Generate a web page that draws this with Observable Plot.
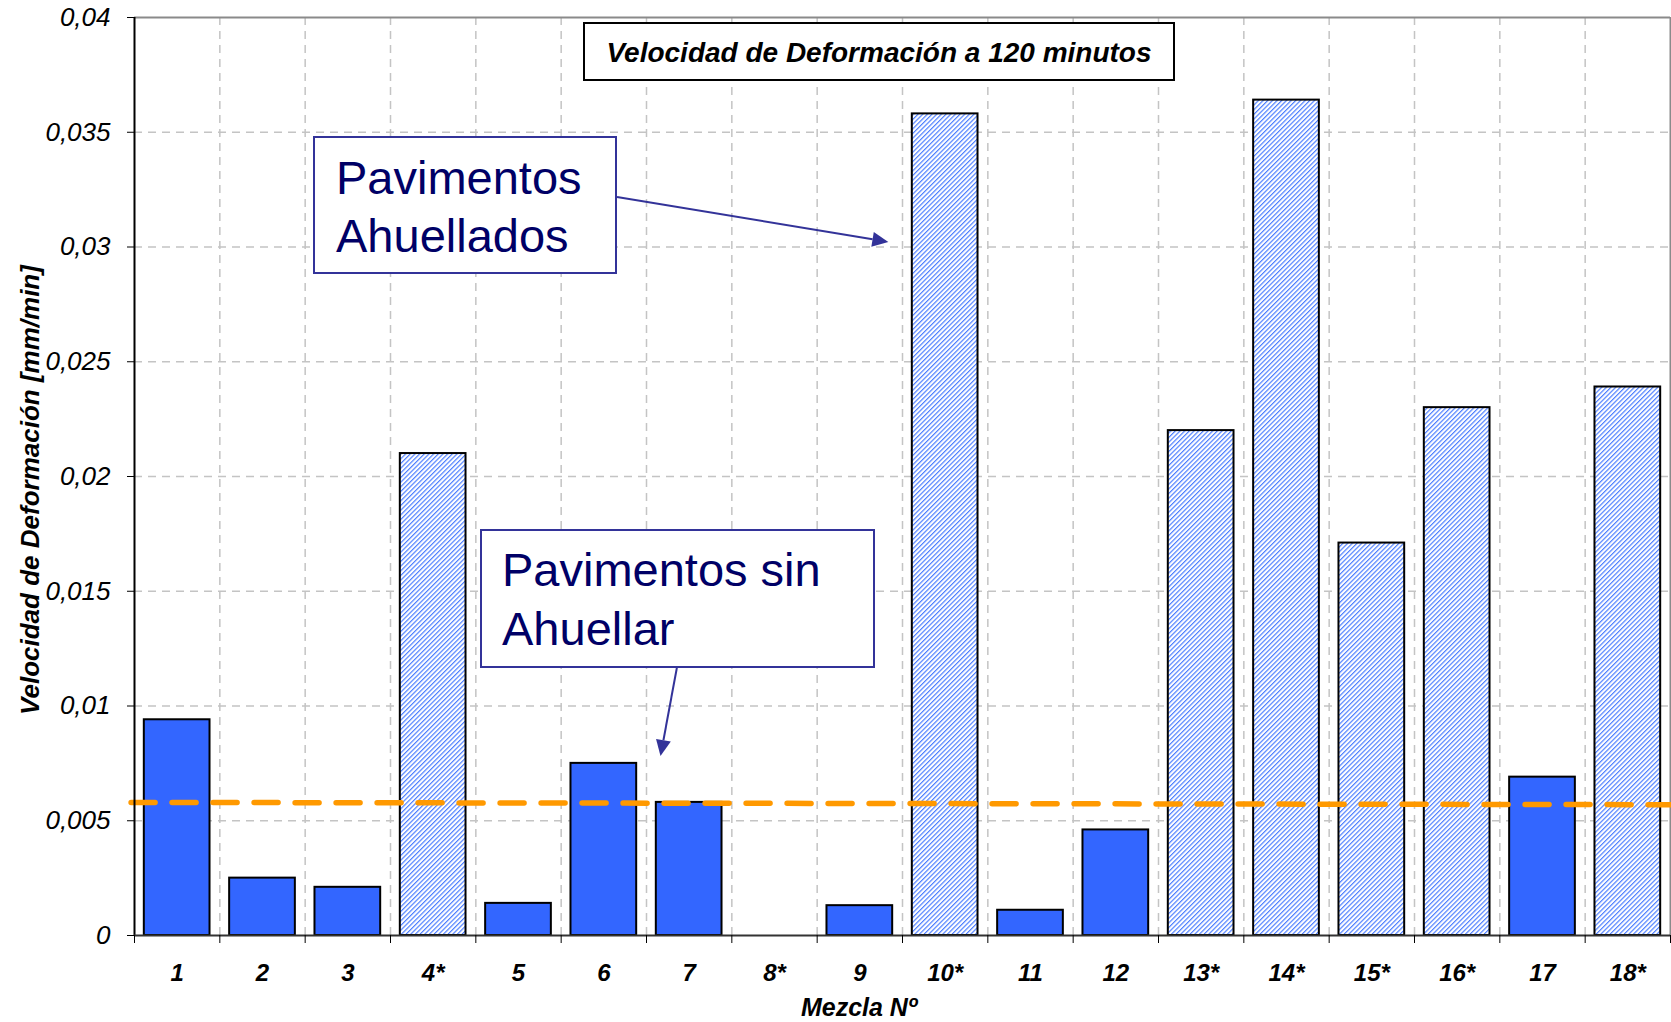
<!DOCTYPE html>
<html>
<head>
<meta charset="utf-8">
<script src="https://cdn.jsdelivr.net/npm/d3@7"></script>
<script src="https://cdn.jsdelivr.net/npm/@observablehq/plot@0.6"></script>
<style>
  html, body { margin: 0; padding: 0; background: #ffffff; }
  svg { display: block; }
</style>
</head>
<body>
<div id="chart"></div>
<script>
// ---- Data ----
const mezclas = ["1","2","3","4*","5","6","7","8*","9","10*","11","12","13*","14*","15*","16*","17","18*"];
const velocidad = [0.0094, 0.0025, 0.0021, 0.0210, 0.0014, 0.0075, 0.0058, 0, 0.0013, 0.0358,
                   0.0011, 0.0046, 0.0220, 0.0364, 0.0171, 0.0230, 0.0069, 0.0239];
const ahuellado = [false, false, false, true, false, false, false, true, false, true,
                   false, false, true, true, true, true, false, true];
const lineaLimite = [0.0058, 0.0057];   // dashed orange line, left end / right end
const yTicks = [0, 0.005, 0.01, 0.015, 0.02, 0.025, 0.03, 0.035, 0.04];
const yTickLabels = ["0", "0,005", "0,01", "0,015", "0,02", "0,025", "0,03", "0,035", "0,04"];
const titulo = "Velocidad de Deformación a 120 minutos";
const ejeX = "Mezcla Nº";
const ejeY = "Velocidad de Deformación [mm/min]";
const notaAhuellados = ["Pavimentos", "Ahuellados"];
const notaSinAhuellar = ["Pavimentos sin", "Ahuellar"];

// ---- Build table ----
const bars = mezclas.map((m, i) => ({i, mezcla: m, v: velocidad[i], hatched: ahuellado[i]}))
  .filter(d => d.v > 0);
const nCat = mezclas.length;
const lineData = [{x: -0.04, y: lineaLimite[0]}, {x: nCat, y: lineaLimite[1]}];
const slotBounds = d3.range(0, nCat + 1);
const slotCenters = d3.range(0, nCat).map(i => i + 0.5);

const FONT = "'Liberation Sans', Arial, Helvetica, sans-serif";
const gridStyle = {stroke: "#c4c4c4", strokeOpacity: 1, strokeWidth: 1.5, strokeDasharray: "8,6"};

const chart = Plot.plot({
  width: 1671,
  height: 1022,
  marginLeft: 134,
  marginRight: 1,
  marginTop: 17,
  marginBottom: 87,
  style: {fontFamily: FONT, background: "#ffffff", color: "#000"},
  x: {type: "linear", domain: [0, nCat], axis: null},
  y: {type: "linear", domain: [0, 0.04], axis: null},
  marks: [
    Plot.gridY(yTicks.slice(1, -1), gridStyle),
    Plot.gridX(slotBounds.slice(1, -1), gridStyle),
    Plot.ruleY([0.04], {stroke: "#8a8a8a", strokeWidth: 2}),
    Plot.ruleX([nCat], {stroke: "#8a8a8a", strokeWidth: 2}),
    Plot.rect(bars.filter(d => !d.hatched), {
      x1: d => d.i + 0.115, x2: d => d.i + 0.885, y1: d => 0, y2: "v",
      fill: "#3366ff", stroke: "#000", strokeWidth: 2
    }),
    Plot.rect(bars.filter(d => d.hatched), {
      x1: d => d.i + 0.115, x2: d => d.i + 0.885, y1: d => 0, y2: "v",
      fill: "url(#hatch)", stroke: "#000", strokeWidth: 2
    }),
    Plot.line(lineData, {x: "x", y: "y", stroke: "#ff9900", strokeWidth: 5.5, strokeDasharray: "24,17"}),
    Plot.ruleX([0], {stroke: "#000", strokeWidth: 2}),
    Plot.ruleY([0], {stroke: "#333", strokeWidth: 2}),
    Plot.axisY(yTicks, {
      anchor: "left", tickSize: 7, tickPadding: 17, label: null,
      tickFormat: d => yTickLabels[yTicks.indexOf(d)],
      fontSize: 26, fontStyle: "italic", fontFamily: FONT, stroke: "#000"
    }),
    Plot.axisX(slotBounds, {
      anchor: "bottom", tickSize: 8, label: null, tickFormat: () => "", stroke: "#000"
    }),
    Plot.axisX(slotCenters, {
      anchor: "bottom", tickSize: 0, tickPadding: 28, label: null,
      tickFormat: d => mezclas[Math.floor(d)],
      fontSize: 24, fontWeight: "bold", fontStyle: "italic", fontFamily: FONT
    })
  ]
});

const svg = d3.select(chart);

// hatch pattern (light blue diagonal stripes on white)
const defs = svg.insert("defs", ":first-child");
const pat = defs.append("pattern")
  .attr("id", "hatch").attr("patternUnits", "userSpaceOnUse")
  .attr("width", 8).attr("height", 3.3)
  .attr("patternTransform", "rotate(-45)");
pat.append("rect").attr("width", 8).attr("height", 3.3).attr("fill", "#ffffff");
pat.append("rect").attr("width", 8).attr("height", 1.2).attr("fill", "#4f80ff");

const g = svg.append("g").attr("font-family", FONT).attr("text-anchor", "start");

// axis titles
g.append("text")
  .attr("transform", "translate(30,490) rotate(-90)")
  .attr("text-anchor", "middle").attr("dominant-baseline", "central")
  .attr("font-size", 26).attr("font-weight", "bold").attr("font-style", "italic")
  .text(ejeY);
g.append("text")
  .attr("x", 859).attr("y", 1007)
  .attr("text-anchor", "middle").attr("dominant-baseline", "central")
  .attr("font-size", 25).attr("font-weight", "bold").attr("font-style", "italic")
  .text(ejeX);

// chart title box
g.append("rect").attr("x", 584).attr("y", 23).attr("width", 590).attr("height", 57)
  .attr("fill", "#fff").attr("stroke", "#000").attr("stroke-width", 2);
g.append("text").attr("x", 879).attr("y", 52)
  .attr("text-anchor", "middle").attr("dominant-baseline", "central")
  .attr("font-size", 28).attr("font-weight", "bold").attr("font-style", "italic")
  .text(titulo);

// annotation helpers
const NAVY = "#333399";
function arrow(x1, y1, x2, y2) {
  const ang = Math.atan2(y2 - y1, x2 - x1);
  const L = 16, W = 7.5;
  const bx = x2 - L * Math.cos(ang), by = y2 - L * Math.sin(ang);
  g.append("line").attr("x1", x1).attr("y1", y1).attr("x2", bx).attr("y2", by)
    .attr("stroke", NAVY).attr("stroke-width", 2);
  const px = -Math.sin(ang) * W, py = Math.cos(ang) * W;
  g.append("polygon")
    .attr("points", `${x2},${y2} ${bx + px},${by + py} ${bx - px},${by - py}`)
    .attr("fill", NAVY);
}
function noteBox(x, y, w, h, lines, tx, baselines) {
  g.append("rect").attr("x", x).attr("y", y).attr("width", w).attr("height", h)
    .attr("fill", "#fff").attr("stroke", NAVY).attr("stroke-width", 2);
  lines.forEach((t, k) => {
    g.append("text").attr("x", tx).attr("y", baselines[k])
      .attr("text-anchor", "start")
      .attr("font-size", 47).attr("fill", "#000066").text(t);
  });
}

const xs = chart.scale("x"), ys = chart.scale("y");
// Pavimentos Ahuellados -> bar 10*
noteBox(314, 137, 302, 136, notaAhuellados, 336, [194, 252]);
arrow(617, 197, xs.apply(8.84), ys.apply(0.0302));
// Pavimentos sin Ahuellar -> near limit line
noteBox(481, 530, 393, 137, notaSinAhuellar, 502, [586, 645]);
arrow(677, 667, xs.apply(6.17), ys.apply(0.0078));

document.getElementById("chart").appendChild(chart);
</script>
</body>
</html>
